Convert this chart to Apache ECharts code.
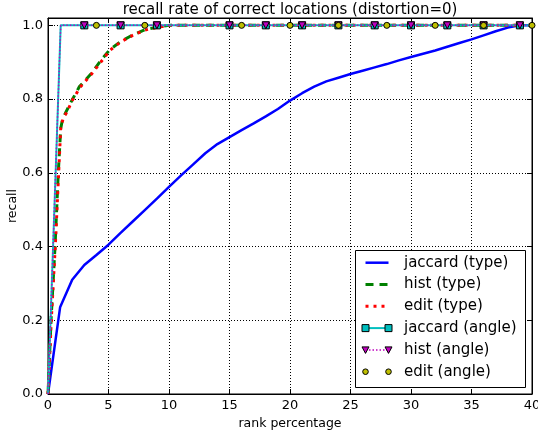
<!DOCTYPE html>
<html>
<head>
<meta charset="utf-8">
<script src="https://cdn.jsdelivr.net/npm/echarts@6/dist/echarts.min.js"></script>
<style>
html,body{margin:0;padding:0;background:#fff;}
#chart{width:538px;height:436px;}
</style>
</head>
<body>
<div id="chart"></div>
<script>
// ---- data ----
const titleText = 'recall rate of correct locations (distortion=0)';
const xAxisName = 'rank percentage';
const yAxisName = 'recall';
const seriesNames = ['jaccard (type)', 'hist (type)', 'edit (type)', 'jaccard (angle)', 'hist (angle)', 'edit (angle)'];

const jaccardTypeX = [0,1,2,3,4,5,6,7,8,9,10,11,12,13,14,15,16,17,18,19,20,21,22,23,24,25,26,27,28,29,30,31,32,33,34,35,36,37,38,39,40];
const jaccardTypeY = [0,0.235,0.31,0.35,0.377,0.405,0.437,0.468,0.499,0.53,0.562,0.593,0.623,0.653,0.678,0.697,0.716,0.734,0.753,0.773,0.796,0.816,0.834,0.848,0.858,0.868,0.877,0.886,0.895,0.905,0.914,0.923,0.932,0.942,0.952,0.962,0.973,0.984,0.994,1.0,1.0];

const histTypeX = [0,0.25,0.58,0.85,1.05,1.2,1.5,2,2.6,3.6,4.4,5.1,6,7,8,9,10,40];
const histTypeY = [0,0.2,0.4,0.6,0.72,0.745,0.766,0.798,0.834,0.87,0.906,0.934,0.956,0.974,0.988,0.995,1.0,1.0];

const editTypeX = [0,0.27,0.6,0.88,1.05,1.25,1.55,2,2.65,3.6,4.45,5.1,6,7,8,9,10.2,40];
const editTypeY = [0,0.2,0.4,0.6,0.72,0.748,0.764,0.796,0.832,0.868,0.904,0.932,0.955,0.973,0.987,0.995,1.0,1.0];

const angleX = [0,1.05,3,6,9,15,18,21,24,27,30,33,36,39,40];
const angleY = [0,1,1,1,1,1,1,1,1,1,1,1,1,1,1];
const angleMarked = [false,false,true,true,true,true,true,true,true,true,true,true,true,true,false];

const editAngleX = [4,8,16,20,24,28,32,36,40];
const editAngleY = [1,1,1,1,1,1,1,1,1];

const xTicks = {min:0, max:40, interval:5};
const yTicks = {min:0, max:1.02, interval:0.2};

// ---- chart ----
const FONT = 'DejaVu Sans';
const C = {blue:'#0000ff', green:'#008000', red:'#ff0000', cyan:'#00bfbf', magenta:'#bf00bf', yellow:'#bfbf00'};

function pairs(xs, ys){ return xs.map((x,i)=>[x, ys[i]]); }
function marked(xs, ys, flags){ return xs.map((x,i)=> flags[i] ? {value:[x,ys[i]]} : {value:[x,ys[i]], symbol:'none'}); }

const chart = echarts.init(document.getElementById('chart'), null, {renderer:'canvas'});

const baseX = {
  type:'value', min:xTicks.min, max:xTicks.max, interval:xTicks.interval,
  axisLine:{show:true, onZero:false, lineStyle:{color:'#000', width:1}},
  axisTick:{show:true, inside:true, length:5, lineStyle:{color:'#000', width:1}},
};
const baseY = {
  type:'value', min:yTicks.min, max:yTicks.max, interval:yTicks.interval,
  axisLine:{show:true, onZero:false, lineStyle:{color:'#000', width:1}},
  axisTick:{show:true, inside:true, length:5, lineStyle:{color:'#000', width:1}},
};

// legend (built from series names)
const legendX = 355, legendY = 250, legendW = 170, legendH = 137;
const rowY0 = 262.7, rowStep = 21.8, sx1 = 365.5, sx2 = 388.5, textX = 404;
const lg = [{type:'rect', shape:{x:legendX+0.5, y:legendY+0.5, width:legendW, height:legendH}, style:{fill:'#fff', stroke:'#000', lineWidth:1}, z:100}];
seriesNames.forEach((n,i)=>{
  const y = rowY0 + i*rowStep;
  if (i===0) lg.push({type:'line', shape:{x1:sx1,y1:y,x2:sx2,y2:y}, style:{stroke:C.blue, lineWidth:2.5}, z:101});
  if (i===1) lg.push({type:'line', shape:{x1:sx1,y1:y,x2:sx2,y2:y}, style:{stroke:C.green, lineWidth:3, lineDash:[8,6]}, z:101});
  if (i===2) lg.push({type:'line', shape:{x1:sx1,y1:y,x2:sx2,y2:y}, style:{stroke:C.red, lineWidth:3, lineDash:[3,5]}, z:101});
  if (i===3) {
    lg.push({type:'line', shape:{x1:sx1,y1:y,x2:sx2,y2:y}, style:{stroke:C.cyan, lineWidth:2}, z:101});
    [sx1,sx2].forEach(px=>lg.push({type:'rect', shape:{x:px-3.5,y:y-3.5,width:7,height:7}, style:{fill:C.cyan, stroke:'#000', lineWidth:1}, z:102}));
  }
  if (i===4) {
    lg.push({type:'line', shape:{x1:sx1,y1:y,x2:sx2,y2:y}, style:{stroke:C.magenta, lineWidth:1.5, lineDash:[1.5,2]}, z:101});
    [sx1,sx2].forEach(px=>lg.push({type:'polygon', shape:{points:[[px-3.5,y-3],[px+3.5,y-3],[px,y+3.5]]}, style:{fill:C.magenta, stroke:'#000', lineWidth:1}, z:102}));
  }
  if (i===5) {
    [sx1,sx2].forEach(px=>lg.push({type:'circle', shape:{cx:px,cy:y,r:2.8}, style:{fill:C.yellow, stroke:'#000', lineWidth:1}, z:102}));
  }
  lg.push({type:'text', x:textX, y:y, style:{text:n, fill:'#000', font:'15px "DejaVu Sans"', textVerticalAlign:'middle', textAlign:'left'}, z:102});
});
lg.push({type:'text', x:290, y:10, style:{text:titleText, fill:'#000', font:'15px "DejaVu Sans"', textAlign:'center', textVerticalAlign:'middle'}, z:102});

chart.setOption({
  animation:false,
  backgroundColor:'#fff',
  textStyle:{fontFamily:FONT},
  grid:{left:48, right:6, top:18, bottom:42, show:true, borderColor:'#000', borderWidth:1, backgroundColor:'transparent', containLabel:false, outerBoundsMode:'none'},
  xAxis:[
    Object.assign({}, baseX, {
      position:'bottom',
      name:xAxisName, nameLocation:'middle', nameGap:23,
      nameTextStyle:{color:'#000', fontSize:12.5, fontFamily:FONT},
      axisLabel:{color:'#000', fontSize:13, fontFamily:FONT, margin:5},
      splitLine:{show:true, lineStyle:{color:'#000', width:1, type:[1,2]}}
    }),
    Object.assign({}, baseX, {position:'top', axisLabel:{show:false}, splitLine:{show:false}})
  ],
  yAxis:[
    Object.assign({}, baseY, {
      position:'left',
      name:yAxisName, nameLocation:'middle', nameGap:29, nameMoveOverlap:false,
      nameTextStyle:{color:'#000', fontSize:12.5, fontFamily:FONT},
      axisLabel:{color:'#000', fontSize:13, fontFamily:FONT, margin:5, showMaxLabel:false, formatter:v=>v.toFixed(1)},
      splitLine:{show:true, lineStyle:{color:'#000', width:1, type:[1,2]}}
    }),
    Object.assign({}, baseY, {position:'right', axisLabel:{show:false}, splitLine:{show:false}})
  ],
  graphic:lg,
  series:[
    {name:seriesNames[0], type:'line', data:pairs(jaccardTypeX, jaccardTypeY), showSymbol:false, symbol:'none',
     lineStyle:{color:C.blue, width:2.5}, itemStyle:{color:C.blue}, z:2},
    {name:seriesNames[1], type:'line', data:pairs(histTypeX, histTypeY), showSymbol:false, symbol:'none',
     lineStyle:{color:C.green, width:3, type:[8,6], cap:'butt'}, itemStyle:{color:C.green}, z:2},
    {name:seriesNames[2], type:'line', data:pairs(editTypeX, editTypeY), showSymbol:false, symbol:'none',
     lineStyle:{color:C.red, width:3, type:[3,5], cap:'butt'}, itemStyle:{color:C.red}, z:2},
    {name:seriesNames[3], type:'line', data:marked(angleX, angleY, angleMarked), symbol:'rect', symbolSize:7,
     lineStyle:{color:C.cyan, width:2}, itemStyle:{color:C.cyan, borderColor:'#000', borderWidth:1}, z:3},
    {name:seriesNames[4], type:'line', data:marked(angleX, angleY, angleMarked), symbol:'triangle', symbolRotate:180, symbolSize:7,
     lineStyle:{color:C.magenta, width:1.5, type:[1.5,2]}, itemStyle:{color:C.magenta, borderColor:'#000', borderWidth:1}, z:4},
    {name:seriesNames[5], type:'scatter', data:pairs(editAngleX, editAngleY), symbol:'circle', symbolSize:6,
     itemStyle:{color:C.yellow, borderColor:'#000', borderWidth:1, opacity:1}, z:5}
  ]
});
</script>
</body>
</html>
